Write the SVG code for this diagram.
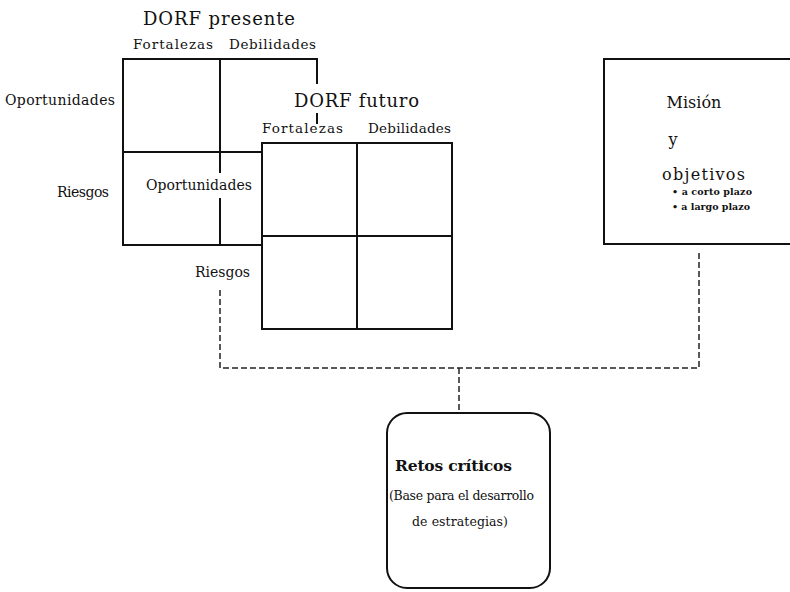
<svg xmlns="http://www.w3.org/2000/svg" width="790" height="592" viewBox="0 0 790 592">
  <style>
    .ln { stroke: #111; stroke-width: 2; fill: none; stroke-linecap: square; }
    .dash { stroke: #222; stroke-width: 1.5; fill: none; stroke-dasharray: 6 3; }
    text { font-family: "DejaVu Serif", "Liberation Serif", serif; fill: #111; }
    .title { font-size: 18px; }
    .hdr { font-size: 13.5px; }
    .lbl { font-size: 14px; }
    .mis { font-size: 16px; }
    .bul { font-size: 9.5px; font-weight: bold; }
    .bold { font-size: 15.5px; font-weight: bold; }
    .sub { font-size: 12.5px; }
    .mid { text-anchor: middle; }
  </style>
  <rect width="790" height="592" fill="#fff"/>

  <!-- Current SWOT grid (partly covered by the future grid) -->
  <g id="dorf-presente">
    <path class="ln" d="M123 59 H317 V83 M317 114 V123 M123 59 V245 H261 M123 152 H261 M220 59 V172 M220 199 V245"/>
    <text class="title" x="143" y="25" textLength="152" lengthAdjust="spacing">DORF presente</text>
    <text class="hdr" x="133" y="49" textLength="80" lengthAdjust="spacing">Fortalezas</text>
    <text class="hdr" x="229" y="49" textLength="87" lengthAdjust="spacing">Debilidades</text>
    <text class="lbl" x="5" y="105" textLength="110" lengthAdjust="spacing">Oportunidades</text>
    <text class="lbl" x="57" y="197" textLength="52" lengthAdjust="spacing">Riesgos</text>
  </g>

  <!-- Future SWOT grid -->
  <g id="dorf-futuro">
    <path class="ln" d="M262 143 H452 V329 H262 Z M357 143 V329 M262 236 H452"/>
    <text class="title" x="294" y="107" textLength="125" lengthAdjust="spacing">DORF futuro</text>
    <text class="hdr" x="262" y="133" textLength="81" lengthAdjust="spacing">Fortalezas</text>
    <text class="hdr" x="368" y="133" textLength="83" lengthAdjust="spacing">Debilidades</text>
    <text class="lbl" x="146" y="190" textLength="106" lengthAdjust="spacing">Oportunidades</text>
    <text class="lbl" x="195" y="277" textLength="55" lengthAdjust="spacing">Riesgos</text>
  </g>

  <!-- Mission and objectives box -->
  <g id="mision">
    <path class="ln" d="M792 59 H604 V244 H792"/>
    <text class="mis mid" x="694" y="108">Misión</text>
    <text class="mis mid" x="673" y="145">y</text>
    <text class="mis" x="662" y="180" textLength="83" lengthAdjust="spacing">objetivos</text>
    <text class="bul" x="672" y="195" textLength="80" lengthAdjust="spacing">• a corto plazo</text>
    <text class="bul" x="672" y="210" textLength="78" lengthAdjust="spacing">• a largo plazo</text>
  </g>

  <!-- Critical challenges box -->
  <g id="retos">
    <rect class="ln" x="387" y="413" width="163" height="175" rx="20" ry="20"/>
    <text class="bold" x="395" y="471" textLength="117" lengthAdjust="spacing">Retos críticos</text>
    <text class="sub" x="389" y="500" textLength="145" lengthAdjust="spacing">(Base para el desarrollo</text>
    <text class="sub" x="412" y="526" textLength="96" lengthAdjust="spacing">de estrategias)</text>
  </g>

  <!-- Dashed connectors -->
  <g id="connectors">
    <path class="dash" d="M220 290 V368 H699 V253"/>
    <path class="dash" d="M459 368 V413"/>
  </g>
</svg>
